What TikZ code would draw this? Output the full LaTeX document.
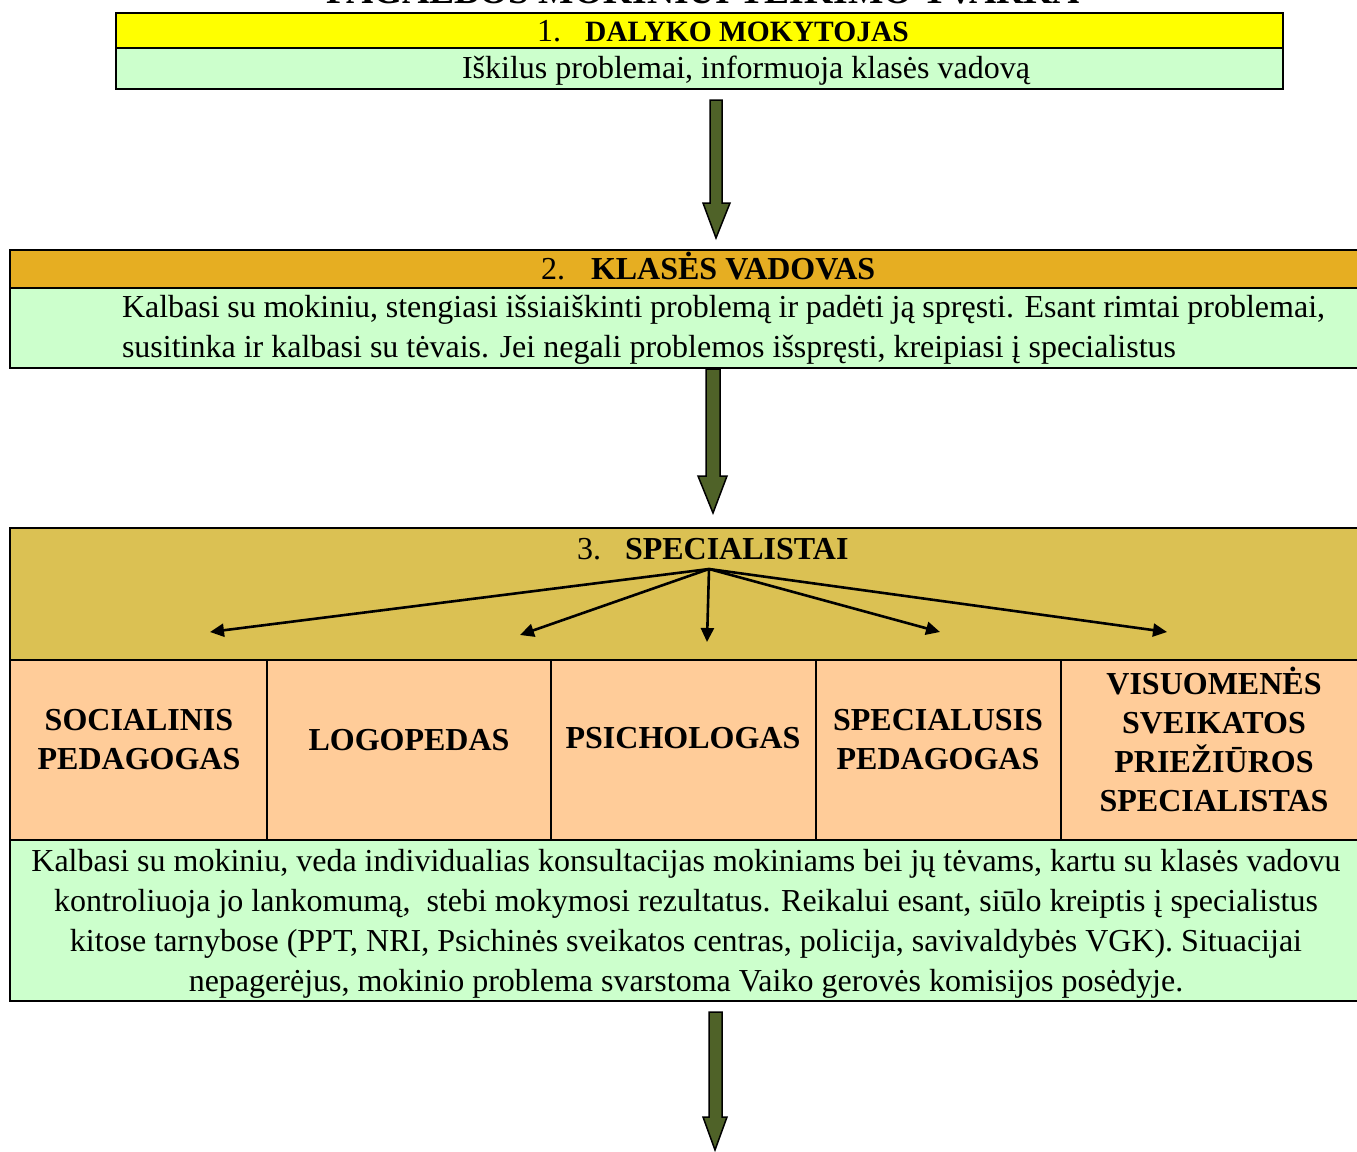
\documentclass[tikz,border=0pt]{standalone}
\usepackage{fontspec}
\setmainfont{Liberation Serif}
\usetikzlibrary{arrows.meta}
\definecolor{hdrA}{RGB}{255,255,0}
\definecolor{hdrB}{RGB}{230,174,34}
\definecolor{goldbg}{RGB}{219,193,83}
\definecolor{mint}{RGB}{204,255,204}
\definecolor{peach}{RGB}{255,204,153}
\definecolor{olivearrow}{RGB}{79,98,40}
\begin{document}
\begin{tikzpicture}[x=1pt,y=-1pt,
  frame/.style={draw=black,line width=1.8pt},
  thin/.style={draw=black,line width=1.5pt},
  bigarrow/.style={draw=black,line width=1.5pt,fill=olivearrow,line join=miter},
  fan/.style={draw=black,line width=2.6pt,-{Triangle[length=14pt,width=13pt]}},
  txt/.style={inner sep=0pt,outer sep=0pt,font=\fontsize{32}{40}\selectfont},
  cell/.style={inner sep=0pt,outer sep=0pt,align=center,font=\fontsize{32}{39}\selectfont\bfseries}]
\useasboundingbox (0,0) rectangle (1357,1151);
\fill[white] (0,0) rectangle (1357,1151);

% clipped title
\begin{scope}
\clip (0,0) rectangle (1357,1151);
\node[inner sep=0pt,anchor=base,font=\fontsize{37.5}{40}\selectfont\bfseries] (title) at (703,3) {PAGALBOS MOKINIUI TEIKIMO TVARKA};
\end{scope}

% ---------- box 1 ----------
\fill[hdrA] (116,13) rectangle (1283,48);
\fill[mint] (116,48) rectangle (1283,89);
\draw[thin] (116,48) -- (1283,48);
\draw[frame] (116,13) rectangle (1283,89);
\node[txt,anchor=base west] (h1) at (537,41) {1.\hspace{24pt}{\fontsize{29.5}{36}\selectfont\bfseries DALYKO MOKYTOJAS}};
\node[txt,anchor=base] (t1) at (746,78) {Iškilus problemai, informuoja klasės vadovą};

% ---------- arrow 1 ----------
\draw[bigarrow] (710,100) -- (722,100) -- (722,203) -- (730,203) -- (716,238) -- (703,203) -- (710,203) -- cycle;

% ---------- box 2 ----------
\fill[hdrB] (10,250) rectangle (1362,288);
\fill[mint] (10,288) rectangle (1362,368);
\draw[thin] (10,288) -- (1362,288);
\draw[frame] (10,250) rectangle (1362,368);
\node[txt,anchor=base west] (h2) at (541,279) {2.\hspace{26pt}\textbf{KLASĖS VADOVAS}};
\node[txt,anchor=base west] (t2a) at (122,317) {\hbox to 1203pt{Kalbasi su mokiniu, stengiasi išsiaiškinti problemą ir padėti ją spręsti. Esant rimtai problemai,}};
\node[txt,anchor=base west] (t2b) at (122,357) {susitinka ir kalbasi su tėvais. Jei negali problemos išspręsti, kreipiasi į specialistus};

% ---------- arrow 2 ----------
\draw[bigarrow] (706,369) -- (720,369) -- (720,476) -- (727,476) -- (713,513) -- (698,476) -- (706,476) -- cycle;

% ---------- box 3 ----------
\fill[goldbg] (10,528) rectangle (1362,660);
\fill[peach] (10,660) rectangle (1362,840);
\fill[mint] (10,840) rectangle (1362,1001);
\draw[thin] (10,660) -- (1362,660);
\draw[thin] (10,840) -- (1362,840);
\foreach \xx in {267,551,816,1061} \draw[thin] (\xx,660) -- (\xx,840);
\draw[frame] (10,528) rectangle (1362,1001);
\node[txt,anchor=base west] (h3) at (577,559) {3.\hspace{24pt}\textbf{SPECIALISTAI}};

\coordinate (hub) at (709,569);
\coordinate (e1) at (210,632);
\coordinate (e2) at (520,635);
\coordinate (e3) at (707,642);
\coordinate (e4) at (940,632);
\coordinate (e5) at (1167,632);
\foreach \e in {e1,e2,e3,e4,e5} \draw[fan] (hub) -- (\e);

\node[cell] (c1) at (139,740) {SOCIALINIS\\PEDAGOGAS};
\node[cell] (c2) at (409,740) {LOGOPEDAS};
\node[cell] (c3) at (683,738) {PSICHOLOGAS};
\node[cell] (c4) at (938,740) {SPECIALUSIS\\PEDAGOGAS};
\node[cell] (c5) at (1214,739) {VISUOMENĖS\\SVEIKATOS\\PRIEŽIŪROS\\SPECIALISTAS};

\node[txt,align=center,anchor=base] (t3) at (686,991) {Kalbasi su mokiniu, veda individualias konsultacijas mokiniams bei jų tėvams, kartu su klasės vadovu\\
kontroliuoja jo lankomumą,\ \ stebi mokymosi rezultatus. Reikalui esant, siūlo kreiptis į specialistus\\
kitose tarnybose (PPT, NRI, Psichinės sveikatos centras, policija, savivaldybės VGK). Situacijai\\
nepagerėjus, mokinio problema svarstoma Vaiko gerovės komisijos posėdyje.};

% ---------- arrow 3 ----------
\draw[bigarrow] (709,1012) -- (722,1012) -- (722,1117) -- (727,1117) -- (715,1150) -- (703,1117) -- (709,1117) -- cycle;
\end{tikzpicture}
\end{document}
